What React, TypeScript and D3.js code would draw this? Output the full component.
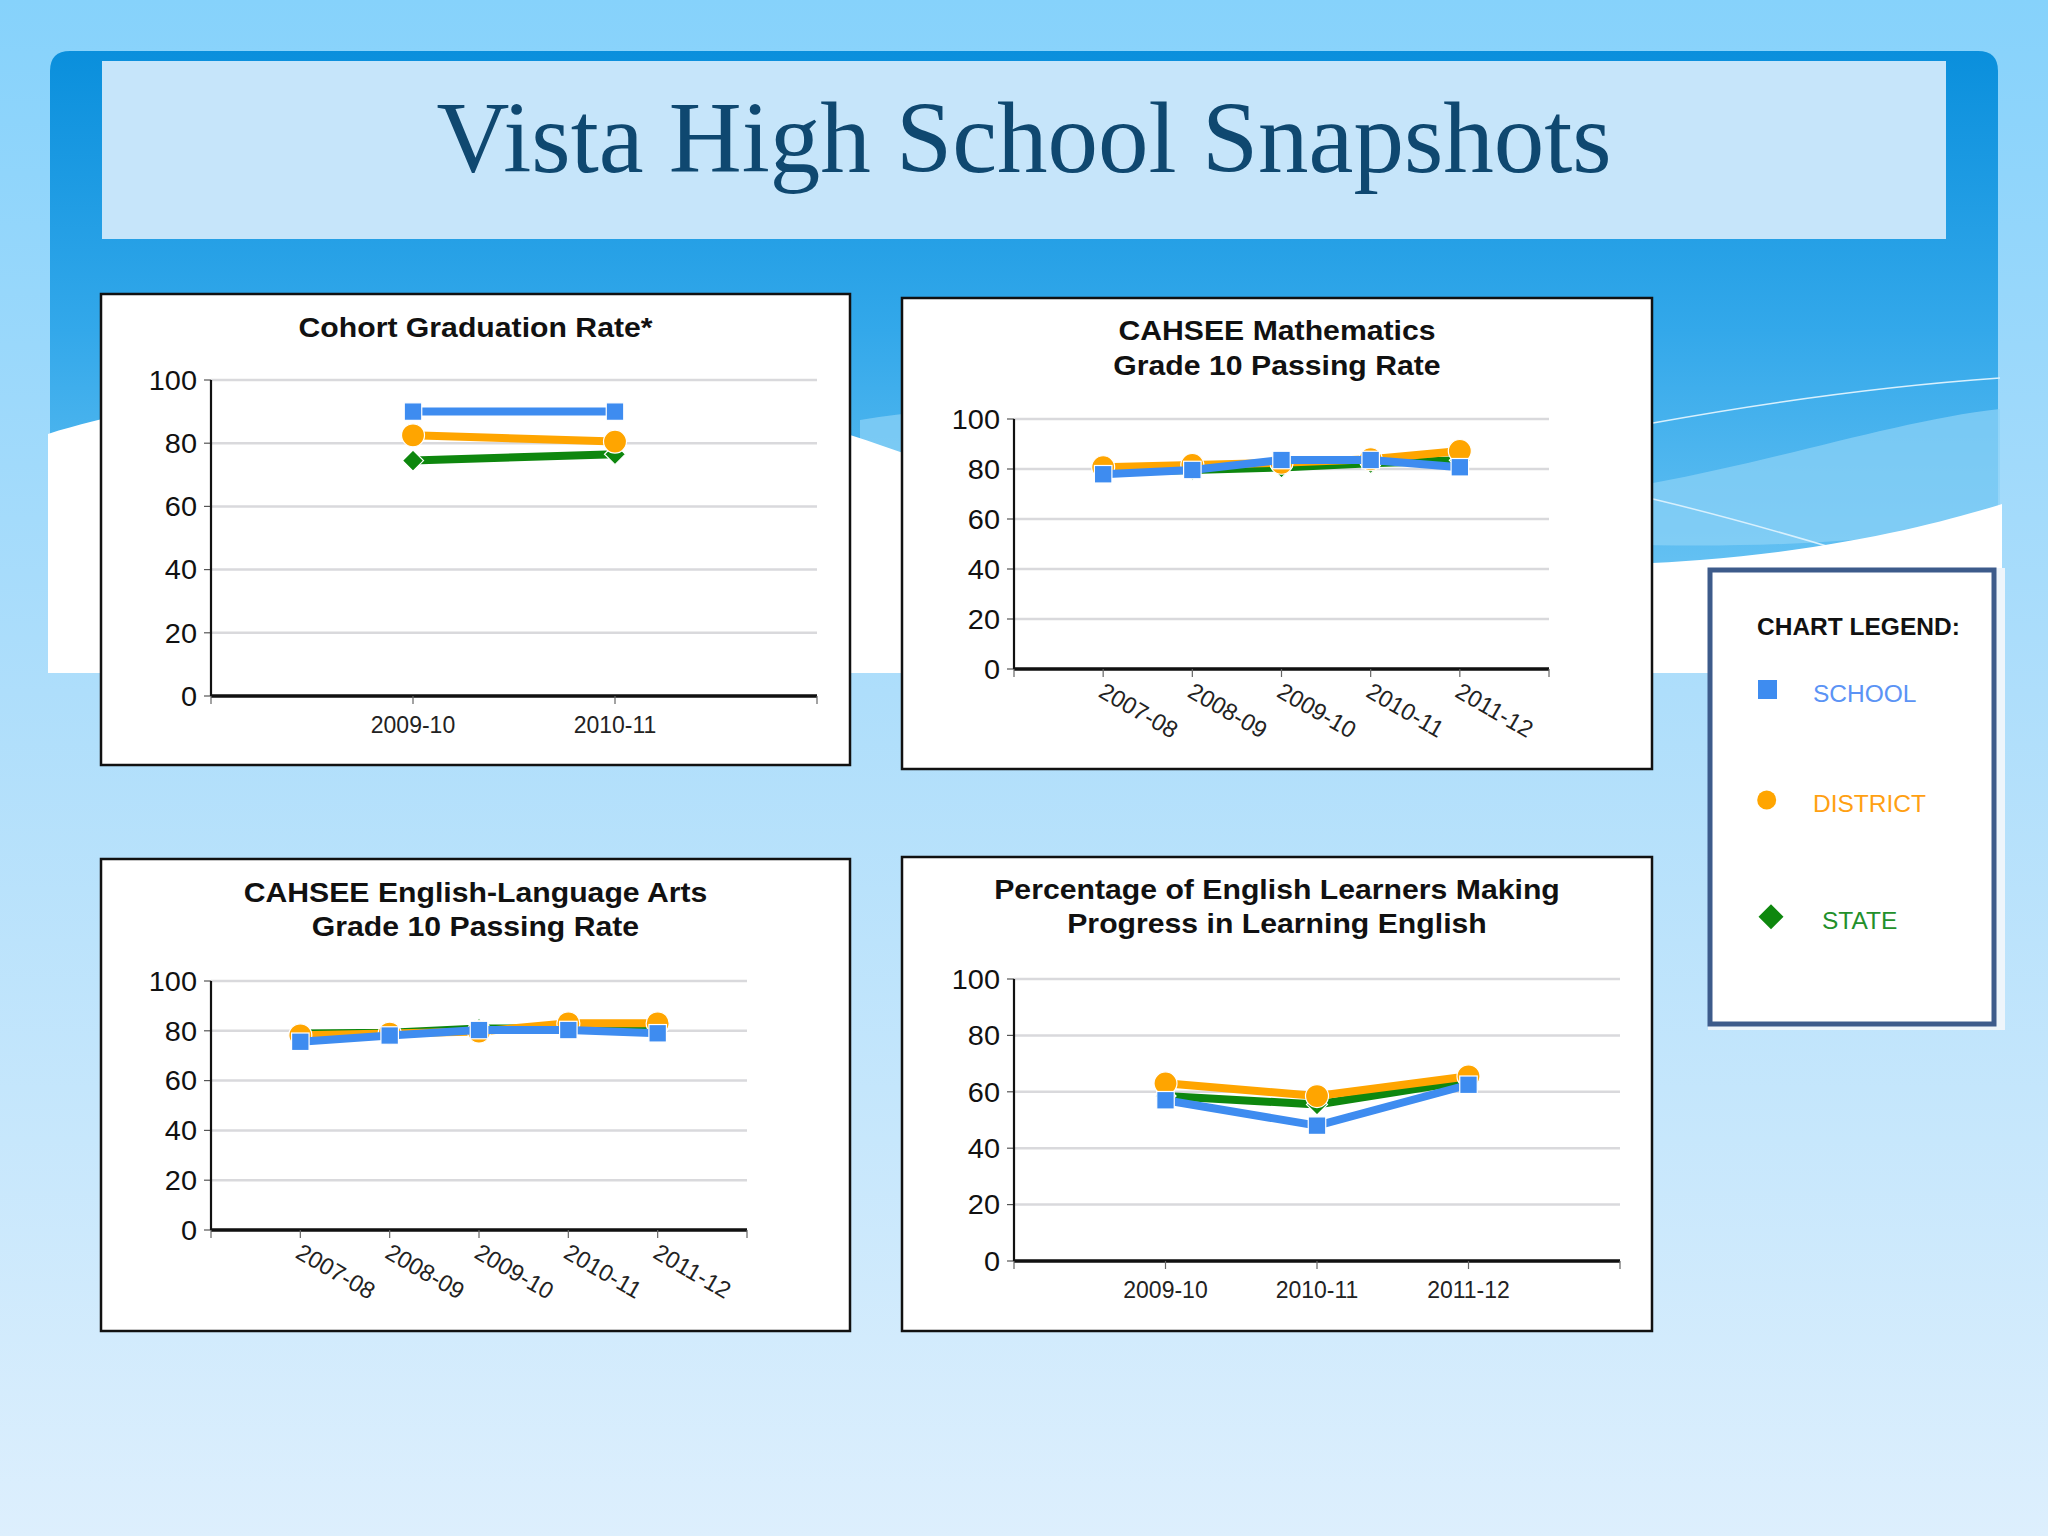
import React from "react";
import * as d3 from "d3";

const W = 2048;
const H = 1536;

// ---------- DATA ----------
const cohortYears = ["2009-10", "2010-11"];
const cohortSchool = [90, 90];
const cohortDistrict = [82.5, 80.5];
const cohortState = [74.5, 76.5];

const mathYears = ["2007-08", "2008-09", "2009-10", "2010-11", "2011-12"];
const mathSchool = [77.9, 79.6, 83.6, 83.6, 80.7];
const mathDistrict = [80.7, 81.6, 82.5, 83.9, 87.2];
const mathState = [78.8, 79.6, 80.6, 82.3, 83.5];

const elaYears = ["2007-08", "2008-09", "2009-10", "2010-11", "2011-12"];
const elaSchool = [75.6, 78.1, 80.3, 80.3, 79.0];
const elaDistrict = [78.2, 78.9, 79.7, 83.0, 83.0];
const elaState = [78.9, 79.2, 80.9, 81.0, 80.6];

const elYears = ["2009-10", "2010-11", "2011-12"];
const elSchool = [57, 48, 62.5];
const elDistrict = [63, 58.5, 65.5];
const elState = [58.5, 55.5, 64];

const yTicks = [0, 20, 40, 60, 80, 100];
const legendLabels = ["SCHOOL", "DISTRICT", "STATE"];

const pageTitle = "Vista High School Snapshots";

// ---------- STYLE ----------
const SCHOOL_C = "#3E8CF0";
const DISTRICT_C = "#FFA500";
const STATE_C = "#0E870E";
const LEG_TEXT = ["#5B93F5", "#FFA012", "#22902A"];
const SANS = "'Liberation Sans', Arial, sans-serif";
const SERIF = "'Liberation Serif', 'Times New Roman', serif";

type Series = { kind: "square" | "circle" | "diamond"; color: string; values: number[] };

type ChartSpec = {
  panel: [number, number, number, number];
  plot: { x0: number; x1: number; yZero: number; yHundred: number };
  titles: string[];
  titleY: number[];
  cats: string[];
  series: Series[];
  rotate: boolean;
};

const charts: ChartSpec[] = [
  {
    panel: [101, 294, 749, 471],
    plot: { x0: 211, x1: 817, yZero: 696, yHundred: 380 },
    titles: ["Cohort Graduation Rate*"],
    titleY: [337],
    cats: cohortYears,
    series: [
      { kind: "diamond", color: STATE_C, values: cohortState },
      { kind: "circle", color: DISTRICT_C, values: cohortDistrict },
      { kind: "square", color: SCHOOL_C, values: cohortSchool },
    ],
    rotate: false,
  },
  {
    panel: [902, 298, 750, 471],
    plot: { x0: 1014, x1: 1549, yZero: 669, yHundred: 419 },
    titles: ["CAHSEE Mathematics", "Grade 10 Passing Rate"],
    titleY: [340, 375],
    cats: mathYears,
    series: [
      { kind: "diamond", color: STATE_C, values: mathState },
      { kind: "circle", color: DISTRICT_C, values: mathDistrict },
      { kind: "square", color: SCHOOL_C, values: mathSchool },
    ],
    rotate: true,
  },
  {
    panel: [101, 859, 749, 472],
    plot: { x0: 211, x1: 747, yZero: 1230, yHundred: 981 },
    titles: ["CAHSEE English-Language Arts", "Grade 10 Passing Rate"],
    titleY: [902, 936],
    cats: elaYears,
    series: [
      { kind: "diamond", color: STATE_C, values: elaState },
      { kind: "circle", color: DISTRICT_C, values: elaDistrict },
      { kind: "square", color: SCHOOL_C, values: elaSchool },
    ],
    rotate: true,
  },
  {
    panel: [902, 857, 750, 474],
    plot: { x0: 1014, x1: 1620, yZero: 1261, yHundred: 979 },
    titles: ["Percentage of English Learners Making", "Progress in Learning English"],
    titleY: [899, 933],
    cats: elYears,
    series: [
      { kind: "diamond", color: STATE_C, values: elState },
      { kind: "circle", color: DISTRICT_C, values: elDistrict },
      { kind: "square", color: SCHOOL_C, values: elSchool },
    ],
    rotate: false,
  },
];

function Marker({ kind, color, x, y }: { kind: string; color: string; x: number; y: number }) {
  if (kind === "square") {
    const s = 17.5;
    return <rect x={x - s / 2} y={y - s / 2} width={s} height={s} fill={color} stroke="#fff" strokeWidth={1.2} />;
  }
  if (kind === "circle") {
    return <circle cx={x} cy={y} r={11.5} fill={color} stroke="#fff" strokeWidth={1.2} />;
  }
  const d = 10.5;
  return (
    <path
      d={`M${x},${y - d}L${x + d},${y}L${x},${y + d}L${x - d},${y}Z`}
      fill={color}
      stroke="#fff"
      strokeWidth={1.2}
    />
  );
}

function Chart({ spec }: { spec: ChartSpec }) {
  const [px, py, pw, ph] = spec.panel;
  const { x0, x1, yZero, yHundred } = spec.plot;
  const x = d3.scalePoint<string>().domain(spec.cats).range([x0, x1]).padding(1);
  const y = d3.scaleLinear().domain([0, 100]).range([yZero, yHundred]);
  const line = d3
    .line<number>()
    .x((_, i) => x(spec.cats[i]) as number)
    .y((v) => y(v));
  const cx = px + pw / 2;
  const xTickPos = [x0, ...spec.cats.map((c) => x(c) as number), x1];
  return (
    <g>
      <rect x={px} y={py} width={pw} height={ph} fill="#fff" stroke="#111" strokeWidth={2.5} />
      {spec.titles.map((t, i) => (
        <text
          key={i}
          transform={`translate(${cx},${spec.titleY[i]}) scale(1.06,1)`}
          textAnchor="middle"
          fontFamily={SANS}
          fontWeight="bold"
          fontSize={28.5}
          fill="#111"
        >
          {t}
        </text>
      ))}
      {yTicks.map((t) => (
        <g key={t}>
          <line x1={x0} x2={x1} y1={y(t)} y2={y(t)} stroke="#D9D9DC" strokeWidth={2.5} />
          <line x1={x0 - 7} x2={x0} y1={y(t)} y2={y(t)} stroke="#555" strokeWidth={1.2} />
          <text
            transform={`translate(${x0 - 14},${y(t)}) scale(1.07,1)`}
            dy="0.36em"
            textAnchor="end"
            fontFamily={SANS}
            fontSize={27}
            fill="#111"
          >
            {t}
          </text>
        </g>
      ))}
      <line x1={x0} x2={x0} y1={yHundred} y2={yZero} stroke="#111" strokeWidth={2.2} />
      <line x1={x0} x2={x1} y1={yZero} y2={yZero} stroke="#111" strokeWidth={3.5} />
      {xTickPos.map((p, i) => (
        <line key={i} x1={p} x2={p} y1={yZero} y2={yZero + 8} stroke="#666" strokeWidth={1.2} />
      ))}
      {spec.cats.map((c) =>
        spec.rotate ? (
          <text
            key={c}
            transform={`translate(${(x(c) as number) - 6},${yZero + 27}) rotate(30)`}
            fontFamily={SANS}
            fontSize={23.5}
            fill="#222"
          >
            {c}
          </text>
        ) : (
          <text
            key={c}
            x={x(c) as number}
            y={yZero + 37}
            textAnchor="middle"
            fontFamily={SANS}
            fontSize={23}
            fill="#222"
          >
            {c}
          </text>
        )
      )}
      {spec.series.map((s, si) => (
        <g key={si}>
          <path d={line(s.values) || ""} fill="none" stroke={s.color} strokeWidth={8} strokeLinejoin="round" />
          {s.values.map((v, i) => (
            <Marker key={i} kind={s.kind} color={s.color} x={x(spec.cats[i]) as number} y={y(v)} />
          ))}
        </g>
      ))}
    </g>
  );
}

function Legend() {
  const kinds = ["square", "circle", "diamond"];
  const colors = [SCHOOL_C, DISTRICT_C, STATE_C];
  const markerPos = [
    [1767.5, 689.5],
    [1766.7, 800],
    [1771, 916.7],
  ];
  const textPos = [
    [1813, 702],
    [1813, 812],
    [1822, 929],
  ];
  return (
    <g>
      <rect x={1708} y={568} width={297} height={462} fill="#EEF5FB" />
      <rect x={1710} y={570} width={284} height={454} fill="#fff" stroke="#3D5B8B" strokeWidth={5} />
      <text x={1757} y={635} fontFamily={SANS} fontWeight="bold" fontSize={24.5} fill="#111">
        CHART LEGEND:
      </text>
      {legendLabels.map((l, i) => {
        const [mx, my] = markerPos[i];
        let m;
        if (kinds[i] === "square") m = <rect x={mx - 9.5} y={my - 9.5} width={19} height={19} fill={colors[i]} />;
        else if (kinds[i] === "circle") m = <circle cx={mx} cy={my} r={9.5} fill={colors[i]} />;
        else
          m = (
            <path
              d={`M${mx},${my - 12.5}L${mx + 12.5},${my}L${mx},${my + 12.5}L${mx - 12.5},${my}Z`}
              fill={colors[i]}
            />
          );
        return (
          <g key={l}>
            {m}
            <text x={textPos[i][0]} y={textPos[i][1]} fontFamily={SANS} fontSize={24.5} fill={LEG_TEXT[i]}>
              {l}
            </text>
          </g>
        );
      })}
    </g>
  );
}

export default function App() {
  return (
    <svg
      width={W}
      height={H}
      viewBox={`0 0 ${W} ${H}`}
      style={{ position: "absolute", left: 0, top: 0, display: "block" }}
    >
      <defs>
        <linearGradient id="bg" x1="0" y1="0" x2="0" y2="1">
          <stop offset="0" stopColor="#86D2FB" />
          <stop offset="0.45" stopColor="#AEDEFB" />
          <stop offset="1" stopColor="#DDEFFD" />
        </linearGradient>
        <linearGradient id="band" x1="0" y1="0" x2="0" y2="1">
          <stop offset="0" stopColor="#0A8FDC" />
          <stop offset="0.45" stopColor="#33A8EA" />
          <stop offset="1" stopColor="#7ACCF6" />
        </linearGradient>
      </defs>
      <rect x={0} y={0} width={W} height={H} fill="url(#bg)" />
      {/* blue banner band */}
      <path
        d="M50,71 Q50,51 70,51 L1978,51 Q1998,51 1998,71 L1998,673 L50,673 Z"
        fill="url(#band)"
      />
      {/* lighter wave streaks */}
      <path
        d="M860,420 C1100,380 1400,440 1653,483 C1780,460 1900,420 2000,409 L2000,520 C1800,560 1500,560 860,470 Z"
        fill="#8ED3F7"
        opacity={0.7}
      />
      <path d="M1653,423 C1780,400 1900,385 2000,378" fill="none" stroke="#D8F0FD" strokeWidth={1.5} />
      <path d="M1653,499 C1720,515 1790,535 1840,550" fill="none" stroke="#D8F0FD" strokeWidth={1.5} />
      {/* white wave */}
      <path
        d="M48,434 C250,370 650,360 880,445 C1150,540 1450,580 1700,560 C1850,548 1950,520 2002,504 L2002,673 L48,673 Z"
        fill="#FFFFFF"
      />
      {/* header box */}
      <rect x={102} y={61} width={1844} height={178} fill="#C6E5FA" />
      <text
        x={1024}
        y={172}
        textAnchor="middle"
        fontFamily={SERIF}
        fontSize={101}
        fill="#0F4870"
      >
        {pageTitle}
      </text>
      {charts.map((c, i) => (
        <Chart key={i} spec={c} />
      ))}
      <Legend />
    </svg>
  );
}
